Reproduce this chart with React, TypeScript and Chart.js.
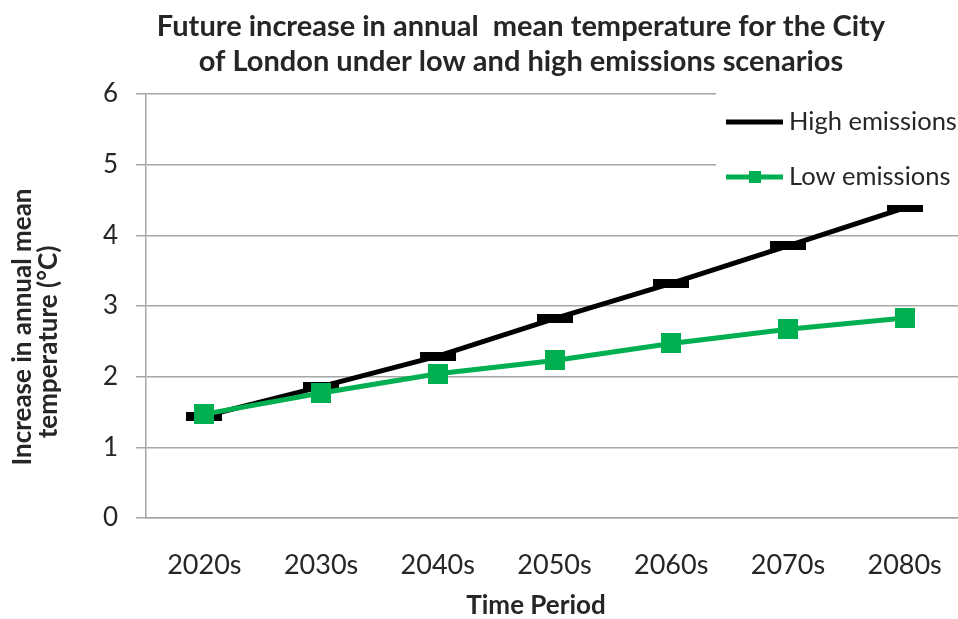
import React, { useEffect, useRef } from "react";
import { Chart, registerables } from "chart.js";

Chart.register(...registerables);

// Time periods along the x axis
const categories = ["2020s", "2030s", "2040s", "2050s", "2060s", "2070s", "2080s"];
// Increase in annual mean temperature (°C)
const highEmissions = [1.44, 1.86, 2.29, 2.82, 3.32, 3.85, 4.39];
const lowEmissions = [1.47, 1.77, 2.04, 2.23, 2.47, 2.67, 2.83];
// Value axis range
const yMin = 0;
const yMax = 6;
const yStep = 1;

const chartTitle = [
  "Future increase in annual  mean temperature for the City",
  "of London under low and high emissions scenarios",
];
const xTitle = "Time Period";
const yTitle = ["Increase in annual mean", "temperature (°C)"];

const FONT = "Lato";
const TEXT = "#262626";
const GRID = "#a6a6a6";
const BLACK = "#000000";
const GREEN = "#00b050";

function markerCanvas(w: number, h: number, color: string) {
  const c = document.createElement("canvas");
  c.width = w;
  c.height = h;
  const g = c.getContext("2d")!;
  g.fillStyle = color;
  g.fillRect(0, 0, w, h);
  return c;
}

const textPlugin = {
  id: "textLayer",
  afterDraw(chart: any) {
    const ctx = chart.ctx as CanvasRenderingContext2D;
    ctx.save();
    ctx.fillStyle = TEXT;
    ctx.textBaseline = "middle";

    // chart title
    ctx.textAlign = "center";
    ctx.font = `bold 29px ${FONT}`;
    ctx.fillText(chartTitle[0], 521, 27);
    ctx.fillText(chartTitle[1], 521, 62);

    // x axis title
    ctx.font = `bold 26px ${FONT}`;
    ctx.fillText(xTitle, 536, 606);

    // y axis title, rotated
    ctx.save();
    ctx.rotate(-Math.PI / 2);
    ctx.font = `bold 26px ${FONT}`;
    ctx.fillText(yTitle[0], -327, 23);
    ctx.fillText(yTitle[1], -342, 49);
    ctx.restore();

    // legend
    const ds = chart.data.datasets;
    const high = ds.find((d: any) => d.key === "high");
    const low = ds.find((d: any) => d.key === "low");
    ctx.fillStyle = "#ffffff";
    ctx.fillRect(716, 88, 260, 117);

    const rows = [
      { d: high, y: 122, marker: false },
      { d: low, y: 177, marker: true },
    ];
    ctx.font = `25.5px ${FONT}`;
    ctx.textAlign = "left";
    for (const r of rows) {
      ctx.strokeStyle = r.d.borderColor;
      ctx.lineWidth = 5;
      ctx.beginPath();
      ctx.moveTo(726, r.y);
      ctx.lineTo(783, r.y);
      ctx.stroke();
      if (r.marker) {
        ctx.fillStyle = r.d.borderColor;
        ctx.fillRect(749, r.y - 6, 12, 12);
      }
      ctx.fillStyle = TEXT;
      ctx.fillText(r.d.label, 789, r.y);
    }
    ctx.restore();
  },
};

export default function App() {
  const ref = useRef<HTMLCanvasElement>(null);

  useEffect(() => {
    const canvas = ref.current;
    if (!canvas) return;
    const dash = markerCanvas(36, 9, BLACK);
    const square = markerCanvas(20, 20, GREEN);

    const chart = new Chart(canvas, {
      type: "line",
      data: {
        labels: categories,
        datasets: [
          {
            key: "low",
            label: "Low emissions",
            data: lowEmissions,
            borderColor: GREEN,
            backgroundColor: GREEN,
            borderWidth: 5,
            pointStyle: square,
            pointRadius: 10,
            tension: 0,
            order: 0,
          } as any,
          {
            key: "high",
            label: "High emissions",
            data: highEmissions,
            borderColor: BLACK,
            backgroundColor: BLACK,
            borderWidth: 5,
            pointStyle: dash,
            pointRadius: 18,
            tension: 0,
            order: 1,
          } as any,
        ],
      },
      options: {
        animation: false,
        responsive: true,
        maintainAspectRatio: false,
        layout: {
          autoPadding: false,
          padding: { top: 94, left: 0, right: 0, bottom: 0 },
        },
        plugins: {
          legend: { display: false },
          title: { display: false },
          tooltip: { enabled: false },
        },
        scales: {
          x: {
            type: "category",
            offset: true,
            grid: { display: false },
            border: { display: true, color: GRID, width: 1.5 },
            ticks: {
              color: TEXT,
              font: { family: FONT, size: 27 },
              padding: 23,
              maxRotation: 0,
            },
            afterFit(scale: any) {
              scale.height = 101;
              scale.paddingLeft = 0;
              scale.paddingRight = 0;
            },
          },
          y: {
            min: yMin,
            max: yMax,
            ticks: {
              stepSize: yStep,
              color: TEXT,
              font: { family: FONT, size: 26 },
              padding: 18,
            },
            grid: {
              color: GRID,
              lineWidth: 1.5,
              drawTicks: true,
              tickLength: 10,
            },
            border: { display: true, color: GRID, width: 1.5 },
            afterFit(scale: any) {
              scale.width = 146;
              scale.paddingTop = 0;
              scale.paddingBottom = 0;
            },
          },
        },
      },
      plugins: [textPlugin],
    });
    return () => chart.destroy();
  }, []);

  return (
    <div
      style={{
        position: "fixed",
        left: 0,
        top: 0,
        width: 958,
        height: 619,
        overflow: "hidden",
        background: "#ffffff",
      }}
    >
      <div style={{ position: "relative", width: 963, height: 619 }}>
        <canvas ref={ref} />
      </div>
    </div>
  );
}
